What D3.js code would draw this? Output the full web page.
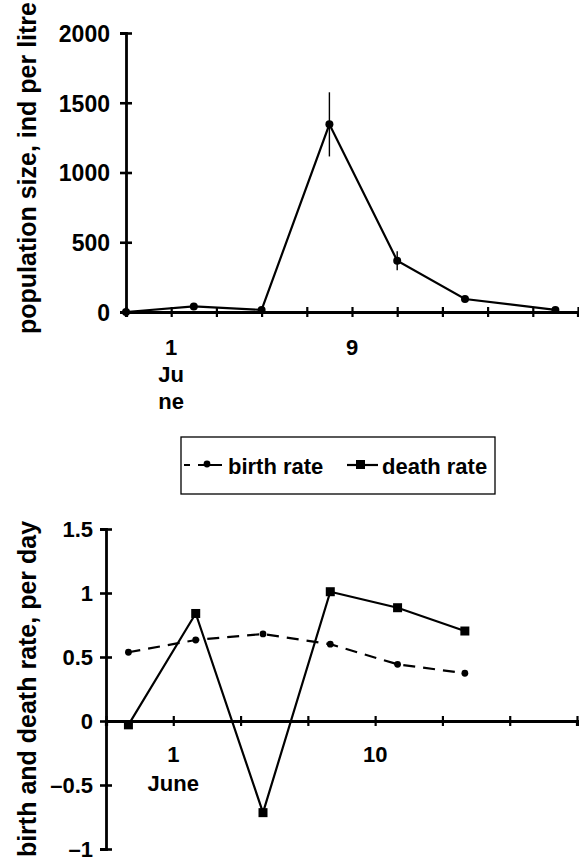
<!DOCTYPE html>
<html>
<head>
<meta charset="utf-8">
<script src="https://cdn.jsdelivr.net/npm/d3@7"></script>
<style>
  html, body { margin: 0; padding: 0; background: #fff; }
  svg { display: block; }
  text { font-family: "Liberation Sans", Arial, sans-serif; font-weight: bold; fill: #000; }
</style>
</head>
<body>
<svg id="chart" width="579" height="863"></svg>
<script>
// ---------- data ----------
// top panel: population size
const popDays   = [-1, 2, 5, 8, 11, 14, 18];
const popValues = [0, 40, 15, 1345, 368, 93, 15];
const popErrors = [0, 0, 0, 230, 68, 0, 0];
const popYTicks = [0, 500, 1000, 1500, 2000];
const popXTicks = [-1, 1, 3, 5, 7, 9, 11, 13, 15, 17, 19];
const popXLabelDays = [1, 9];
const popXLabelLines = [["1", "Ju", "ne"], ["9"]];
const popYTitle = "population size, ind per litre";

// bottom panel: birth and death rate
const rateDays  = [-1, 2, 5, 8, 11, 14];
const birthRate = [0.537, 0.633, 0.68, 0.60, 0.443, 0.373];
const deathRate = [-0.03, 0.84, -0.716, 1.01, 0.885, 0.703];
const rateYTicks = [-1, -0.5, 0, 0.5, 1, 1.5];
const rateYTickLabels = ["\u20131", "\u20130.5", "0", "0.5", "1", "1.5"];
const rateXTicks = [-2, 1, 4, 7, 10, 13, 16, 19];
const rateXLabelDays = [1, 10];
const rateXLabelLines = [["1", "June"], ["10"]];
const rateYTitle = "birth and death rate, per day";
const legendNames = ["birth rate", "death rate"];

// ---------- drawing ----------
const svg = d3.select("#chart");
svg.append("rect").attr("width", 579).attr("height", 863).attr("fill", "#fff");

// ===== top panel =====
const xTop = d3.scaleLinear().domain([-1, 19]).range([126, 578]);
const yTop = d3.scaleLinear().domain([0, 2000]).range([312, 33]);

const gTop = svg.append("g");

const yAxisTop = d3.axisLeft(yTop).tickValues(popYTicks).tickSize(6).tickPadding(12)
  .tickFormat(d3.format("d"));
const gya = gTop.append("g").attr("transform", `translate(${xTop.range()[0]},0)`).call(yAxisTop);
gya.select(".domain").attr("stroke", "#000").attr("stroke-width", 2.8);
gya.selectAll(".tick line").attr("x1", 6).attr("x2", -6).attr("stroke-width", 2.6);
gya.selectAll(".tick text").attr("font-size", 23).attr("font-family", "Liberation Sans, Arial").attr("font-weight", "bold").attr("dy", "0.36em").attr("x", -16);

const xAxisTop = d3.axisBottom(xTop).tickValues(popXTicks).tickSize(5).tickFormat("");
const gxa = gTop.append("g").attr("transform", `translate(0,${yTop(0)})`).call(xAxisTop);
gxa.select(".domain").attr("stroke", "#000").attr("stroke-width", 3.2);
gxa.selectAll(".tick line").attr("y1", -5).attr("y2", 5).attr("stroke-width", 2.2);

popXLabelDays.forEach((d, i) => {
  popXLabelLines[i].forEach((t, j) => {
    gTop.append("text").attr("x", xTop(d)).attr("y", yTop(0) + 43 + j * 27)
      .attr("text-anchor", "middle").attr("font-size", 22).text(t);
  });
});

gTop.append("text")
  .attr("transform", `translate(36,168) rotate(-90)`)
  .attr("text-anchor", "middle").attr("font-size", 25).text(popYTitle);

popDays.forEach((d, i) => {
  if (popErrors[i] > 0) {
    gTop.append("line")
      .attr("x1", xTop(d)).attr("x2", xTop(d))
      .attr("y1", yTop(popValues[i] + popErrors[i])).attr("y2", yTop(popValues[i] - popErrors[i]))
      .attr("stroke", "#000").attr("stroke-width", 1.4);
  }
});

const popPts = popDays.map((d, i) => [xTop(d), yTop(popValues[i])]);
gTop.append("path").attr("d", d3.line()(popPts))
  .attr("fill", "none").attr("stroke", "#000").attr("stroke-width", 2.2);
gTop.selectAll("circle.pop").data(popPts).join("circle").attr("class", "pop")
  .attr("cx", p => p[0]).attr("cy", p => p[1]).attr("r", 4).attr("fill", "#000");

// ===== legend =====
const gLeg = svg.append("g");
gLeg.append("rect").attr("x", 181).attr("y", 437).attr("width", 314).attr("height", 57)
  .attr("fill", "#fff").attr("stroke", "#000").attr("stroke-width", 1.3);
gLeg.append("line").attr("x1", 184).attr("x2", 222).attr("y1", 465).attr("y2", 465)
  .attr("stroke", "#000").attr("stroke-width", 2).attr("stroke-dasharray", "6,8,30");
gLeg.append("line").attr("x1", 212).attr("x2", 222).attr("y1", 465).attr("y2", 465)
  .attr("stroke", "#000").attr("stroke-width", 2);
gLeg.append("circle").attr("cx", 207).attr("cy", 464).attr("r", 3.4).attr("fill", "#000");
gLeg.append("text").attr("x", 228).attr("y", 474).attr("font-size", 22).text(legendNames[0]);
gLeg.append("line").attr("x1", 347).attr("x2", 378).attr("y1", 465).attr("y2", 465)
  .attr("stroke", "#000").attr("stroke-width", 2.2);
gLeg.append("rect").attr("x", 356).attr("y", 460).attr("width", 9).attr("height", 9).attr("fill", "#000");
gLeg.append("text").attr("x", 382).attr("y", 474).attr("font-size", 22).text(legendNames[1]);

// ===== bottom panel =====
const xBot = d3.scaleLinear().domain([-2, 19]).range([106, 577]);
const yBot = d3.scaleLinear().domain([-1, 1.5]).range([849, 529]);
const gBot = svg.append("g");

const yAxisBot = d3.axisLeft(yBot).tickValues(rateYTicks).tickSize(6).tickPadding(12)
  .tickFormat(d => rateYTickLabels[rateYTicks.indexOf(d)]);
const gyb = gBot.append("g").attr("transform", `translate(${xBot.range()[0]},0)`).call(yAxisBot);
gyb.select(".domain").attr("stroke", "#000").attr("stroke-width", 2.8);
gyb.selectAll(".tick line").attr("x1", 6).attr("x2", -6).attr("stroke-width", 2.6);
gyb.selectAll(".tick text").attr("font-size", 22).attr("font-family", "Liberation Sans, Arial").attr("font-weight", "bold").attr("dy", "0.36em").attr("x", -13);

const xAxisBot = d3.axisBottom(xBot).tickValues(rateXTicks).tickSize(5).tickFormat("");
const gxb = gBot.append("g").attr("transform", `translate(0,${yBot(0)})`).call(xAxisBot);
gxb.select(".domain").attr("stroke", "#000").attr("stroke-width", 3.2);
gxb.selectAll(".tick line").attr("y1", -5).attr("y2", 5).attr("stroke-width", 2.2);

rateXLabelDays.forEach((d, i) => {
  rateXLabelLines[i].forEach((t, j) => {
    gBot.append("text").attr("x", xBot(d)).attr("y", yBot(0) + 41 + j * 29)
      .attr("text-anchor", "middle").attr("font-size", 22).text(t);
  });
});

gBot.append("text")
  .attr("transform", `translate(36,689) rotate(-90)`)
  .attr("text-anchor", "middle").attr("font-size", 25).text(rateYTitle);

const birthPts = rateDays.map((d, i) => [xBot(d), yBot(birthRate[i])]);
const deathPts = rateDays.map((d, i) => [xBot(d), yBot(deathRate[i])]);

gBot.append("path").attr("d", d3.line()(birthPts))
  .attr("fill", "none").attr("stroke", "#000").attr("stroke-width", 2.2).attr("stroke-dasharray", "12,8");
gBot.selectAll("circle.birth").data(birthPts).join("circle").attr("class", "birth")
  .attr("cx", p => p[0]).attr("cy", p => p[1]).attr("r", 3.4).attr("fill", "#000");

gBot.append("path").attr("d", d3.line()(deathPts))
  .attr("fill", "none").attr("stroke", "#000").attr("stroke-width", 2.2);
gBot.selectAll("rect.death").data(deathPts).join("rect").attr("class", "death")
  .attr("x", p => p[0] - 4.5).attr("y", p => p[1] - 4.5).attr("width", 9).attr("height", 9).attr("fill", "#000");
</script>
</body>
</html>
